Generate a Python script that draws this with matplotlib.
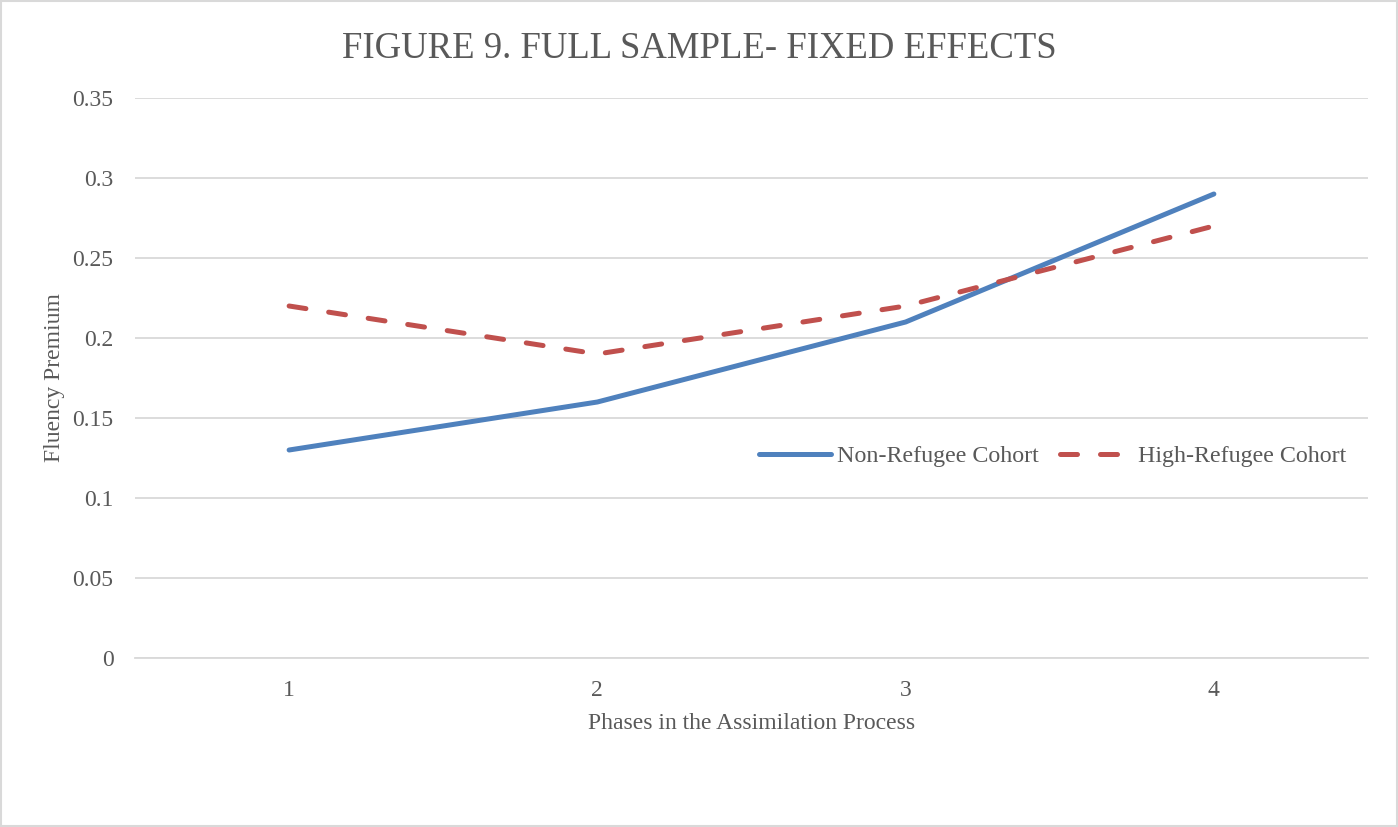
import matplotlib
matplotlib.use("Agg")
import matplotlib.pyplot as plt
from matplotlib.patches import Rectangle

phases = ["1", "2", "3", "4"]
non_refugee = [0.13, 0.16, 0.21, 0.29]
high_refugee = [0.22, 0.19, 0.22, 0.27]
yticks = [0, 0.05, 0.1, 0.15, 0.2, 0.25, 0.3, 0.35]
ytick_labels = ["0", "0.05", "0.1", "0.15", "0.2", "0.25", "0.3", "0.35"]

plt.rcParams['font.family'] = ['Liberation Serif', 'DejaVu Serif']
txt = "#595959"

fig = plt.figure(figsize=(13.98, 8.27), dpi=100)
ax = fig.add_axes([135/1398, 1-658/827, 1233/1398, 560/827])

x = list(range(1, len(phases)+1))
ax.plot(x, non_refugee, color="#4F81BD", lw=3.6, solid_capstyle="round", label="Non-Refugee Cohort")
ax.plot(x, high_refugee, color="#C0504D", lw=3.6, dashes=(3.4, 4.6), dash_capstyle="round", label="High-Refugee Cohort")

ax.set_xlim(0.5, 4.5)
ax.set_ylim(0, 0.35)
ax.set_xticks(x)
ax.set_xticklabels(phases)
ax.set_yticks(yticks)
ax.set_yticklabels(ytick_labels)
ax.tick_params(axis="both", length=0, labelsize=17, colors=txt)
ax.tick_params(axis="y", pad=15.5)
ax.tick_params(axis="x", pad=15.5)
ax.grid(axis="y", color="#D9D9D9", lw=1.3)
ax.set_axisbelow(True)
for s in ["top", "right", "left"]:
    ax.spines[s].set_visible(False)
ax.spines["bottom"].set_color("#D9D9D9")
ax.spines["bottom"].set_linewidth(1.3)

ax.set_xlabel("Phases in the Assimilation Process", fontsize=17, color=txt, labelpad=9)
ax.set_ylabel("Fluency Premium", fontsize=17, color=txt, labelpad=5.5)
fig.suptitle("FIGURE 9. FULL SAMPLE- FIXED EFFECTS", fontsize=26.5, color=txt, y=0.962)

ax.legend(loc="center right", bbox_to_anchor=(1.0, 0.36), frameon=False, ncol=2,
          fontsize=17.3, labelcolor=txt, handlelength=3.0, columnspacing=0.9, handletextpad=0.25)

fig.patches.append(Rectangle((0.001, 0.001), 0.998, 0.998, transform=fig.transFigure,
                             fill=False, edgecolor="#D9D9D9", lw=1.5))
fig.savefig("out.png", dpi=100, facecolor="white")
